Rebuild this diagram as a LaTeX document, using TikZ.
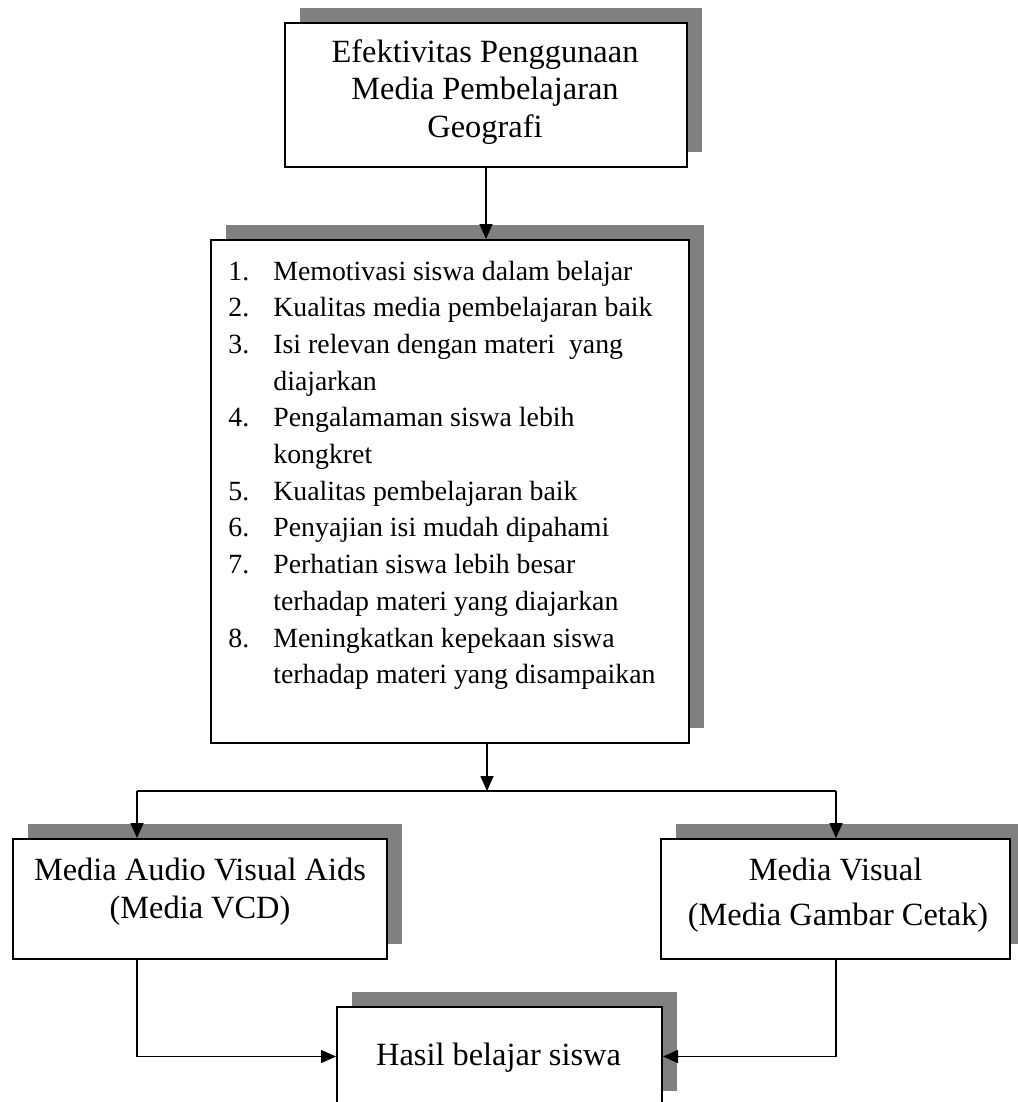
\documentclass[tikz,border=0pt]{standalone}
\usepackage{fontspec}
\setmainfont{Liberation Serif}
\usetikzlibrary{arrows.meta,shadows}
\definecolor{bayangan}{HTML}{808080}
\newcommand{\kotakfont}{\fontsize{16.2}{18.5}\selectfont}
\newcommand{\daftarfont}{\fontsize{13.9}{18.4}\selectfont}
\tikzset{
  kotak/.style={draw=black,line width=1pt,fill=white,inner sep=0pt,
    drop shadow={shadow xshift=7.5pt,shadow yshift=7.5pt,opacity=1,fill=bayangan}},
  teks/.style={anchor=base,inner sep=0pt,font=\kotakfont},
  butir/.style={anchor=base west,inner sep=0pt,font=\daftarfont},
  garis/.style={line width=0.8pt},
  panah/.style={garis,-{Triangle[length=7.5pt,width=6.5pt]}},
}

\begin{document}
\begin{tikzpicture}[x=0.5pt,y=-0.5pt]
  \useasboundingbox (0,0) rectangle (1017,1102);

  % kotak
  \node[kotak,minimum width=201pt,minimum height=72pt] (judul) at (486,95) {};
  \node[kotak,minimum width=239pt,minimum height=251.5pt] (indikator) at (450,491.5) {};
  \node[kotak,minimum width=187pt,minimum height=60pt] (avaids) at (200,899) {};
  \node[kotak,minimum width=174.5pt,minimum height=60pt] (visual) at (835.5,899) {};
  \node[kotak,minimum width=162.5pt,minimum height=49.5pt] (hasil) at (499.5,1056.5) {};

  % teks kotak
  \node[teks] (judul1) at (485,63) {Efektivitas Penggunaan};
  \node[teks] (judul2) at (485,100) {Media Pembelajaran};
  \node[teks] (judul3) at (485,137) {Geografi};
  \node[teks] (avaids1) at (200,880) {Media Audio Visual Aids};
  \node[teks] (avaids2) at (200,918) {(Media VCD)};
  \node[teks] (visual1) at (835.5,880) {Media Visual};
  \node[teks] (visual2) at (838,925) {(Media Gambar Cetak)};
  \node[teks] (hasil1) at (498.5,1065) {Hasil belajar siswa};

  % daftar indikator
  \foreach \no/\k in {1/0,2/1,3/2,4/4,5/6,6/7,7/8,8/10}
    \node[butir] (nomor\k) at (228,280+36.7*\k) {\no.};
  \foreach \isi [count=\k from 0] in {Memotivasi siswa dalam belajar,
      Kualitas media pembelajaran baik,
      Isi relevan dengan materi\ \ yang,
      diajarkan,
      Pengalamaman siswa lebih,
      kongkret,
      Kualitas pembelajaran baik,
      Penyajian isi mudah dipahami,
      Perhatian siswa lebih besar,
      terhadap materi yang diajarkan,
      Meningkatkan kepekaan siswa,
      terhadap materi yang disampaikan}
    \node[butir] (isi\k) at (273,280+36.7*\k) {\isi};

  % panah
  \coordinate (cabang) at (487,791);
  \coordinate (kiri) at (137,791);
  \coordinate (kanan) at (836,791);
  \draw[panah] (judul.south) -- (judul.south |- indikator.north);
  \draw[panah] (cabang |- indikator.south) -- (cabang);
  \draw[garis] (kiri) -- (kanan);
  \draw[panah] (kiri) -- (kiri |- avaids.north);
  \draw[panah] (kanan) -- (kanan |- visual.north);
  \draw[panah] (kiri |- avaids.south) |- (hasil.west);
  \draw[panah] (kanan |- visual.south) |- (hasil.east);
\end{tikzpicture}
\end{document}
